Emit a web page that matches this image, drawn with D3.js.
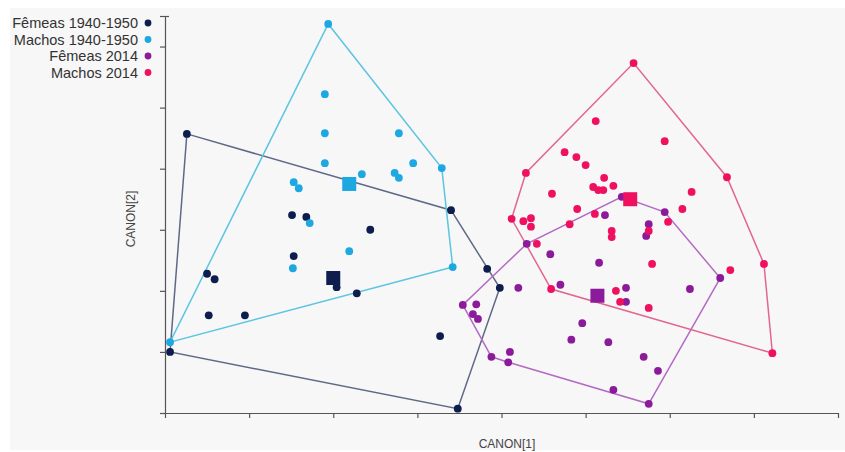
<!DOCTYPE html>
<html>
<head>
<meta charset="utf-8">
<script src="https://cdn.jsdelivr.net/npm/d3@7"></script>
<style>
  html, body { margin: 0; padding: 0; background: #ffffff; }
  svg { display: block; font-family: "Liberation Sans", Arial, sans-serif; }
</style>
</head>
<body>
<svg id="chart" width="845" height="452"></svg>
<script>
// Canonical scores (CANON[1], CANON[2]) per group
const femeas1940 = [
  [0.26, 4.57], [1.51, 3.24], [1.68, 3.21], [2.44, 3.00], [1.53, 2.57],
  [0.50, 2.28], [0.59, 2.19], [2.04, 2.06], [2.28, 1.96], [0.52, 1.60],
  [0.95, 1.60], [0.06, 1.00], [3.27, 1.26], [3.40, 3.32], [3.83, 2.36],
  [3.98, 2.05], [3.48, 0.07]
];
const machos1940 = [
  [1.94, 6.37], [1.90, 5.22], [1.90, 4.58], [1.90, 4.09], [1.53, 3.78],
  [1.59, 3.68], [2.34, 3.91], [2.78, 4.58], [2.73, 3.93], [2.78, 3.85],
  [2.95, 4.09], [3.29, 4.01], [1.72, 3.11], [2.19, 2.65], [1.52, 2.37],
  [3.42, 2.39], [0.06, 1.16]
];
const femeas2014 = [
  [5.43, 3.54], [5.23, 3.24], [5.94, 3.29], [5.75, 3.09], [5.72, 2.90],
  [4.30, 2.77], [4.58, 2.60], [5.16, 2.46], [6.60, 2.21], [4.20, 2.05],
  [4.70, 2.10], [5.48, 2.05], [6.24, 2.03], [5.48, 1.82], [3.54, 1.77],
  [3.70, 1.78], [3.66, 1.62], [3.72, 1.54], [4.96, 1.47], [4.83, 1.20],
  [5.27, 1.16], [3.88, 0.92], [4.10, 1.00], [4.08, 0.83], [5.69, 0.92],
  [5.86, 0.69], [5.33, 0.38], [5.75, 0.15]
];
const machos2014 = [
  [5.57, 5.73], [5.12, 4.78], [5.94, 4.45], [4.75, 4.27], [4.89, 4.19],
  [5.00, 4.06], [4.29, 3.93], [6.68, 3.86], [5.22, 3.85], [5.33, 3.72],
  [5.09, 3.70], [5.15, 3.65], [5.21, 3.65], [6.26, 3.62], [4.60, 3.59],
  [4.90, 3.34], [6.15, 3.34], [5.11, 3.26], [4.12, 3.18], [4.26, 3.14],
  [4.35, 3.19], [4.35, 3.05], [4.81, 3.09], [5.98, 3.13], [5.31, 2.98],
  [5.31, 2.88], [5.75, 2.98], [4.42, 2.77], [5.79, 2.44], [6.72, 2.34],
  [7.12, 2.44], [4.59, 2.03], [5.36, 2.00], [5.41, 1.82], [5.75, 1.72],
  [7.22, 0.98]
];

// Group means (square markers)
const groupMeans = [[2.00, 2.21], [2.19, 3.75], [5.14, 1.92], [5.53, 3.50]];

const groupNames = ["Fêmeas 1940-1950", "Machos 1940-1950", "Fêmeas 2014", "Machos 2014"];
const xTicks = [0, 1, 2, 3, 4, 5, 6, 7, 8];
const yTicks = [0, 1, 2, 3, 4, 5, 6, 6.5];

const groups = [femeas1940, machos1940, femeas2014, machos2014];
const dotColors  = ["#0c1d4e", "#1ea8e2", "#8c1b9b", "#ef1060"];
const hullColors = ["#5d6987", "#5cc5e2", "#b46ac4", "#e2668f"];

const svg = d3.select("#chart");

// panel background
svg.append("rect")
  .attr("x", 10).attr("y", 8).attr("width", 835).attr("height", 442)
  .attr("fill", "#f7f7f7");

const x = d3.scaleLinear().domain([0, 8]).range([165, 838]);
const y = d3.scaleLinear().domain([0, 6.5]).range([413, 16]);

// axes
const axisColor = "#555";
const gx = svg.append("g").attr("transform", `translate(0,${y(0)})`)
  .call(d3.axisBottom(x).tickValues(xTicks).tickFormat("").tickSize(5).tickSizeOuter(0));
const gy = svg.append("g").attr("transform", `translate(${x(0)},0)`)
  .call(d3.axisLeft(y).tickValues(yTicks).tickFormat("").tickSize(5).tickSizeOuter(0));
[gx, gy].forEach(g => {
  g.selectAll("path, line").attr("stroke", axisColor).attr("stroke-width", 1.2);
});
// small cap on the top end of the vertical axis
gy.selectAll(".tick").filter(d => d === 6.5).select("line").attr("x1", 4);

svg.append("text")
  .attr("x", 507).attr("y", 448)
  .attr("text-anchor", "middle")
  .attr("font-size", 12).attr("fill", "#444")
  .text("CANON[1]");
svg.append("text")
  .attr("transform", "translate(135,219) rotate(-90)")
  .attr("text-anchor", "middle")
  .attr("font-size", 12).attr("fill", "#444")
  .text("CANON[2]");

// convex hulls
const line = d3.line().x(d => x(d[0])).y(d => y(d[1])).curve(d3.curveLinearClosed);
groups.forEach((pts, i) => {
  const hull = d3.polygonHull(pts);
  svg.append("path")
    .attr("d", line(hull))
    .attr("fill", "none")
    .attr("stroke", hullColors[i])
    .attr("stroke-width", 1.5);
});

// points
groups.forEach((pts, i) => {
  svg.append("g").selectAll("circle").data(pts).join("circle")
    .attr("cx", d => x(d[0])).attr("cy", d => y(d[1]))
    .attr("r", 3.9)
    .attr("fill", dotColors[i]);
});

// means
const sq = 14;
svg.append("g").selectAll("rect").data(groupMeans).join("rect")
  .attr("x", d => x(d[0]) - sq / 2).attr("y", d => y(d[1]) - sq / 2)
  .attr("width", sq).attr("height", sq)
  .attr("fill", (d, i) => dotColors[i]);

// legend
const legend = svg.append("g");
groupNames.forEach((name, i) => {
  const ly = 23 + i * 16.5;
  legend.append("text")
    .attr("x", 138).attr("y", ly + 5)
    .attr("text-anchor", "end")
    .attr("font-size", 14.5).attr("fill", "#333")
    .text(name);
  legend.append("circle")
    .attr("cx", 148).attr("cy", ly)
    .attr("r", 3.4)
    .attr("fill", dotColors[i]);
});
</script>
</body>
</html>
